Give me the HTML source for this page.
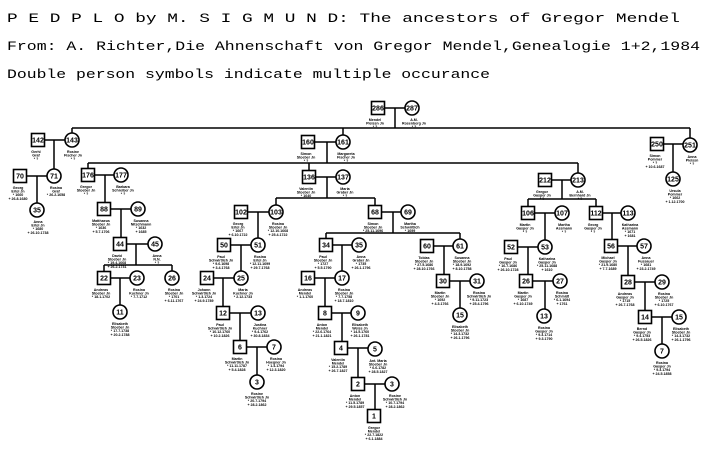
<!DOCTYPE html>
<html><head><meta charset="utf-8"><style>
html,body{margin:0;padding:0;background:#fff;}
svg{display:block;}
.t{font-family:"Liberation Mono",monospace;font-size:13px;fill:#000;}
.n{font-family:"Liberation Sans",sans-serif;font-size:7px;font-weight:bold;fill:#000;text-anchor:middle;}
.l{font-family:"Liberation Sans",sans-serif;font-size:3.6px;font-weight:bold;fill:#000;text-anchor:middle;}
rect,circle{fill:#fff;stroke:#000;stroke-width:1.6;}
path{stroke:#000;stroke-width:1.5;fill:none;}
</style></head><body>
<svg width="705" height="454" viewBox="0 0 705 454" xmlns="http://www.w3.org/2000/svg">
<text class="t" x="7" y="22" textLength="673" lengthAdjust="spacingAndGlyphs">P E D P L O  by M. S I G M U N D: The ancestors of Gregor Mendel</text>
<text class="t" x="7" y="50" textLength="693" lengthAdjust="spacingAndGlyphs">From: A. Richter,Die Ahnenschaft von Gregor Mendel,Genealogie 1+2,1984</text>
<text class="t" x="7" y="78" textLength="483" lengthAdjust="spacingAndGlyphs">Double person symbols indicate multiple occurance</text>

<path d="
M385 108H405 M395 108V128 M72 128H690 M72 128V133 M343 128V135 M690 128V138
M45 140H65 M54 140V169
M27 176H47 M37 176V203
M315 142H336 M327 142V163 M88 163H578 M88 163V168 M309 163V170 M578 163V173
M95 175H114 M105 175V202
M111 209H131 M121 209V237
M127 244H148 M136 244V265 M104 265H172 M104 265V271 M172 265V271
M111 278H130 M120 278V305
M316 177H336 M327 177V198 M276 198H375 M276 198V205 M375 198V205
M248 212H269 M258 212V238
M231 245H251 M241 245V271
M214 278H234 M223 278V306
M230 313H251 M240 313V340
M247 347H267 M257 347V375
M382 212H401 M393 212V233 M326 233H460 M326 233V238 M460 233V239
M333 245H352 M342 245V271
M315 278H335 M325 278V306
M332 313H351 M342 313V341
M348 348H368 M358 348V377
M365 384H385 M375 384V409
M434 246H453 M444 246V274
M450 281H470 M460 281V308
M552 180H571 M562 180V199 M528 199H596 M528 199V206 M596 199V206
M535 213H555 M545 213V240
M518 247H538 M528 247V274
M533 281H553 M545 281V309
M603 213H621 M612 213V239
M618 246H637 M628 246V275
M635 282H655 M645 282V310
M652 317H672 M662 317V344
M664 144H683 M673 144V172
"/>

<g>
<rect x="371.5" y="101.5" width="13" height="13"/><text class="n" x="378" y="110.5">286</text>
<rect x="31.5" y="133.5" width="13" height="13"/><text class="n" x="38" y="142.5">142</text>
<rect x="301.5" y="135.5" width="13" height="13"/><text class="n" x="308" y="144.5">160</text>
<rect x="650.5" y="137.5" width="13" height="13"/><text class="n" x="657" y="146.5">250</text>
<rect x="13.5" y="169.5" width="13" height="13"/><text class="n" x="20" y="178.5">70</text>
<rect x="81.5" y="168.5" width="13" height="13"/><text class="n" x="88" y="177.5">176</text>
<rect x="97.5" y="202.5" width="13" height="13"/><text class="n" x="104" y="211.5">88</text>
<rect x="113.5" y="237.5" width="13" height="13"/><text class="n" x="120" y="246.5">44</text>
<rect x="97.5" y="271.5" width="13" height="13"/><text class="n" x="104" y="280.5">22</text>
<rect x="302.5" y="170.5" width="13" height="13"/><text class="n" x="309" y="179.5">136</text>
<rect x="234.5" y="205.5" width="13" height="13"/><text class="n" x="241" y="214.5">102</text>
<rect x="217.5" y="238.5" width="13" height="13"/><text class="n" x="224" y="247.5">50</text>
<rect x="200.5" y="271.5" width="13" height="13"/><text class="n" x="207" y="280.5">24</text>
<rect x="216.5" y="306.5" width="13" height="13"/><text class="n" x="223" y="315.5">12</text>
<rect x="233.5" y="340.5" width="13" height="13"/><text class="n" x="240" y="349.5">6</text>
<rect x="368.5" y="205.5" width="13" height="13"/><text class="n" x="375" y="214.5">68</text>
<rect x="319.5" y="238.5" width="13" height="13"/><text class="n" x="326" y="247.5">34</text>
<rect x="420.5" y="239.5" width="13" height="13"/><text class="n" x="427" y="248.5">60</text>
<rect x="301.5" y="271.5" width="13" height="13"/><text class="n" x="308" y="280.5">16</text>
<rect x="318.5" y="306.5" width="13" height="13"/><text class="n" x="325" y="315.5">8</text>
<rect x="334.5" y="341.5" width="13" height="13"/><text class="n" x="341" y="350.5">4</text>
<rect x="351.5" y="377.5" width="13" height="13"/><text class="n" x="358" y="386.5">2</text>
<rect x="367.5" y="409.5" width="13" height="13"/><text class="n" x="374" y="418.5">1</text>
<rect x="436.5" y="274.5" width="13" height="13"/><text class="n" x="443" y="283.5">30</text>
<rect x="538.5" y="173.5" width="13" height="13"/><text class="n" x="545" y="182.5">212</text>
<rect x="521.5" y="206.5" width="13" height="13"/><text class="n" x="528" y="215.5">106</text>
<rect x="589.5" y="206.5" width="13" height="13"/><text class="n" x="596" y="215.5">112</text>
<rect x="504.5" y="240.5" width="13" height="13"/><text class="n" x="511" y="249.5">52</text>
<rect x="604.5" y="239.5" width="13" height="13"/><text class="n" x="611" y="248.5">56</text>
<rect x="519.5" y="274.5" width="13" height="13"/><text class="n" x="526" y="283.5">26</text>
<rect x="621.5" y="275.5" width="13" height="13"/><text class="n" x="628" y="284.5">28</text>
<rect x="638.5" y="310.5" width="13" height="13"/><text class="n" x="645" y="319.5">14</text>
</g>
<g>
<circle cx="412" cy="108" r="7"/><text class="n" x="412" y="110.5">287</text>
<circle cx="72" cy="140" r="7"/><text class="n" x="72" y="142.5">143</text>
<circle cx="343" cy="142" r="7"/><text class="n" x="343" y="144.5">161</text>
<circle cx="690" cy="145" r="7"/><text class="n" x="690" y="147.5">251</text>
<circle cx="673" cy="179" r="7"/><text class="n" x="673" y="181.5">125</text>
<circle cx="54" cy="176" r="7"/><text class="n" x="54" y="178.5">71</text>
<circle cx="37" cy="210" r="7"/><text class="n" x="37" y="212.5">35</text>
<circle cx="121" cy="175" r="7"/><text class="n" x="121" y="177.5">177</text>
<circle cx="138" cy="209" r="7"/><text class="n" x="138" y="211.5">89</text>
<circle cx="155" cy="244" r="7"/><text class="n" x="155" y="246.5">45</text>
<circle cx="137" cy="278" r="7"/><text class="n" x="137" y="280.5">23</text>
<circle cx="172" cy="278" r="7"/><text class="n" x="172" y="280.5">26</text>
<circle cx="120" cy="312" r="7"/><text class="n" x="120" y="314.5">11</text>
<circle cx="343" cy="177" r="7"/><text class="n" x="343" y="179.5">137</text>
<circle cx="276" cy="212" r="7"/><text class="n" x="276" y="214.5">103</text>
<circle cx="258" cy="245" r="7"/><text class="n" x="258" y="247.5">51</text>
<circle cx="241" cy="278" r="7"/><text class="n" x="241" y="280.5">25</text>
<circle cx="258" cy="313" r="7"/><text class="n" x="258" y="315.5">13</text>
<circle cx="274" cy="347" r="7"/><text class="n" x="274" y="349.5">7</text>
<circle cx="257" cy="382" r="7"/><text class="n" x="257" y="384.5">3</text>
<circle cx="408" cy="212" r="7"/><text class="n" x="408" y="214.5">69</text>
<circle cx="359" cy="245" r="7"/><text class="n" x="359" y="247.5">35</text>
<circle cx="460" cy="246" r="7"/><text class="n" x="460" y="248.5">61</text>
<circle cx="342" cy="278" r="7"/><text class="n" x="342" y="280.5">17</text>
<circle cx="358" cy="313" r="7"/><text class="n" x="358" y="315.5">9</text>
<circle cx="375" cy="349" r="7"/><text class="n" x="375" y="351.5">5</text>
<circle cx="392" cy="384" r="7"/><text class="n" x="392" y="386.5">3</text>
<circle cx="477" cy="281" r="7"/><text class="n" x="477" y="283.5">31</text>
<circle cx="460" cy="315" r="7"/><text class="n" x="460" y="317.5">15</text>
<circle cx="578" cy="180" r="7"/><text class="n" x="578" y="182.5">213</text>
<circle cx="562" cy="213" r="7"/><text class="n" x="562" y="215.5">107</text>
<circle cx="628" cy="213" r="7"/><text class="n" x="628" y="215.5">113</text>
<circle cx="545" cy="247" r="7"/><text class="n" x="545" y="249.5">53</text>
<circle cx="644" cy="246" r="7"/><text class="n" x="644" y="248.5">57</text>
<circle cx="560" cy="281" r="7"/><text class="n" x="560" y="283.5">27</text>
<circle cx="544" cy="316" r="7"/><text class="n" x="544" y="318.5">13</text>
<circle cx="662" cy="282" r="7"/><text class="n" x="662" y="284.5">29</text>
<circle cx="679" cy="317" r="7"/><text class="n" x="679" y="319.5">15</text>
<circle cx="662" cy="351" r="7"/><text class="n" x="662" y="353.5">7</text>
</g>
<g class="l">
<text class="l" x="375" y="121">Mendel<tspan x="375" dy="3.6">Pleissn Jn</tspan><tspan x="375" dy="3.6">* ?</tspan></text>
<text class="l" x="414" y="121">A.M.<tspan x="414" dy="3.6">Rosenberg Jn</tspan><tspan x="414" dy="3.6">* ?</tspan></text>
<text class="l" x="36" y="153">Gerhl<tspan x="36" dy="3.6">Graf</tspan><tspan x="36" dy="3.6">* ?</tspan></text>
<text class="l" x="73" y="153">Rosine<tspan x="73" dy="3.6">Fischer Jn</tspan><tspan x="73" dy="3.6">* ?</tspan></text>
<text class="l" x="306" y="155">Simon<tspan x="306" dy="3.6">Stoeber Jn</tspan><tspan x="306" dy="3.6">* ?</tspan></text>
<text class="l" x="346" y="155">Margareta<tspan x="346" dy="3.6">Fischer Jn</tspan><tspan x="346" dy="3.6">* ?</tspan></text>
<text class="l" x="655" y="157">Simon<tspan x="655" dy="3.6">Pommer</tspan><tspan x="655" dy="3.6">* ?</tspan><tspan x="655" dy="3.6">+ 10.6.1687</tspan></text>
<text class="l" x="692" y="158">Anna<tspan x="692" dy="3.6">Pleissn</tspan><tspan x="692" dy="3.6">* ?</tspan></text>
<text class="l" x="675" y="192">Ursula<tspan x="675" dy="3.6">Pommer</tspan><tspan x="675" dy="3.6">* 1662</tspan><tspan x="675" dy="3.6">+ 1.12.1700</tspan></text>
<text class="l" x="18" y="189">Georg<tspan x="18" dy="3.6">Ertel Jn</tspan><tspan x="18" dy="3.6">* 1660</tspan><tspan x="18" dy="3.6">+ 26.8.1680</tspan></text>
<text class="l" x="56" y="189">Rosina<tspan x="56" dy="3.6">Graf</tspan><tspan x="56" dy="3.6">* 26.2.1658</tspan></text>
<text class="l" x="38" y="223">Anna<tspan x="38" dy="3.6">Ertel Jn</tspan><tspan x="38" dy="3.6">* 1680</tspan><tspan x="38" dy="3.6">+ 26.10.1738</tspan></text>
<text class="l" x="86" y="188">Gregor<tspan x="86" dy="3.6">Stoeber Jn</tspan><tspan x="86" dy="3.6">* ?</tspan></text>
<text class="l" x="123" y="188">Barbara<tspan x="123" dy="3.6">Schreiber Jn</tspan><tspan x="123" dy="3.6">* ?</tspan></text>
<text class="l" x="101" y="222">Matthaeus<tspan x="101" dy="3.6">Stoeber Jn</tspan><tspan x="101" dy="3.6">* 1636</tspan><tspan x="101" dy="3.6">+ 5.7.1706</tspan></text>
<text class="l" x="141" y="222">Susanna<tspan x="141" dy="3.6">Nitschmann</tspan><tspan x="141" dy="3.6">* 1632</tspan><tspan x="141" dy="3.6">+ 1685</tspan></text>
<text class="l" x="117" y="257">David<tspan x="117" dy="3.6">Stoeber Jn</tspan><tspan x="117" dy="3.6">* 19.4.1668</tspan><tspan x="117" dy="3.6">+ 26.2.1731</tspan></text>
<text class="l" x="157" y="257">Anna<tspan x="157" dy="3.6">N.N.</tspan><tspan x="157" dy="3.6">* ?</tspan></text>
<text class="l" x="101" y="291">Andreas<tspan x="101" dy="3.6">Stoeber Jn</tspan><tspan x="101" dy="3.6">* 18.1.1702</tspan></text>
<text class="l" x="139" y="291">Rosina<tspan x="139" dy="3.6">Kuchner Jn</tspan><tspan x="139" dy="3.6">* 7.7.1712</tspan></text>
<text class="l" x="174" y="291">Rosina<tspan x="174" dy="3.6">Stoeber Jn</tspan><tspan x="174" dy="3.6">* 1701</tspan><tspan x="174" dy="3.6">+ 6.11.1767</tspan></text>
<text class="l" x="120" y="325">Elisabeth<tspan x="120" dy="3.6">Stoeber Jn</tspan><tspan x="120" dy="3.6">* 17.7.1738</tspan><tspan x="120" dy="3.6">+ 20.2.1788</tspan></text>
<text class="l" x="306" y="190">Valentin<tspan x="306" dy="3.6">Stoeber Jn</tspan><tspan x="306" dy="3.6">* 1640</tspan></text>
<text class="l" x="345" y="190">Maria<tspan x="345" dy="3.6">Graber Jn</tspan><tspan x="345" dy="3.6">* ?</tspan></text>
<text class="l" x="238" y="225">Georg<tspan x="238" dy="3.6">Ertel Jn</tspan><tspan x="238" dy="3.6">* 1667</tspan><tspan x="238" dy="3.6">+ 6.10.1722</tspan></text>
<text class="l" x="278" y="225">Rosina<tspan x="278" dy="3.6">Stoeber Jn</tspan><tspan x="278" dy="3.6">* 12.10.1668</tspan><tspan x="278" dy="3.6">+ 25.4.1722</tspan></text>
<text class="l" x="221" y="258">Paul<tspan x="221" dy="3.6">Schwirtlich Jn</tspan><tspan x="221" dy="3.6">* 9.6.1698</tspan><tspan x="221" dy="3.6">+ 3.4.1768</tspan></text>
<text class="l" x="260" y="258">Rosina<tspan x="260" dy="3.6">Ertel Jn</tspan><tspan x="260" dy="3.6">* 12.11.1699</tspan><tspan x="260" dy="3.6">+ 29.7.1768</tspan></text>
<text class="l" x="204" y="291">Johann<tspan x="204" dy="3.6">Schwirtlich Jn</tspan><tspan x="204" dy="3.6">* 1.3.1724</tspan><tspan x="204" dy="3.6">+ 24.9.1789</tspan></text>
<text class="l" x="243" y="291">Maria<tspan x="243" dy="3.6">Kuchner Jn</tspan><tspan x="243" dy="3.6">* 2.12.1733</tspan></text>
<text class="l" x="220" y="326">Paul<tspan x="220" dy="3.6">Schwirtlich Jn</tspan><tspan x="220" dy="3.6">* 10.12.1760</tspan><tspan x="220" dy="3.6">+ 10.2.1826</tspan></text>
<text class="l" x="260" y="326">Justina<tspan x="260" dy="3.6">Kuchner</tspan><tspan x="260" dy="3.6">* 9.4.1762</tspan><tspan x="260" dy="3.6">+ 30.8.1834</tspan></text>
<text class="l" x="237" y="360">Martin<tspan x="237" dy="3.6">Schwirtlich Jn</tspan><tspan x="237" dy="3.6">* 11.11.1787</tspan><tspan x="237" dy="3.6">+ 5.4.1828</tspan></text>
<text class="l" x="276" y="360">Rosina<tspan x="276" dy="3.6">Hoegner Jn</tspan><tspan x="276" dy="3.6">* 1.4.1794</tspan><tspan x="276" dy="3.6">+ 12.3.1820</tspan></text>
<text class="l" x="257" y="395">Rosine<tspan x="257" dy="3.6">Schwirtlich Jn</tspan><tspan x="257" dy="3.6">* 20.7.1794</tspan><tspan x="257" dy="3.6">+ 28.2.1862</tspan></text>
<text class="l" x="373" y="225">Simon<tspan x="373" dy="3.6">Stoeber Jn</tspan><tspan x="373" dy="3.6">* 25.11.1696</tspan></text>
<text class="l" x="410" y="225">Martha<tspan x="410" dy="3.6">Schwirtlich</tspan><tspan x="410" dy="3.6">* 1699</tspan></text>
<text class="l" x="323" y="258">Paul<tspan x="323" dy="3.6">Stoeber Jn</tspan><tspan x="323" dy="3.6">* 1727</tspan><tspan x="323" dy="3.6">+ 5.5.1790</tspan></text>
<text class="l" x="361" y="258">Anna<tspan x="361" dy="3.6">Graber Jn</tspan><tspan x="361" dy="3.6">* 1735</tspan><tspan x="361" dy="3.6">+ 26.1.1796</tspan></text>
<text class="l" x="424" y="259">Tobias<tspan x="424" dy="3.6">Stoeber Jn</tspan><tspan x="424" dy="3.6">* 27.5.1686</tspan><tspan x="424" dy="3.6">+ 28.10.1766</tspan></text>
<text class="l" x="462" y="259">Susanna<tspan x="462" dy="3.6">Stoeber Jn</tspan><tspan x="462" dy="3.6">* 18.9.1692</tspan><tspan x="462" dy="3.6">+ 8.10.1758</tspan></text>
<text class="l" x="305" y="291">Andreas<tspan x="305" dy="3.6">Mendel</tspan><tspan x="305" dy="3.6">* 1.1.1760</tspan></text>
<text class="l" x="344" y="291">Rosina<tspan x="344" dy="3.6">Stoeber Jn</tspan><tspan x="344" dy="3.6">* 7.7.1758</tspan><tspan x="344" dy="3.6">+ 18.7.1810</tspan></text>
<text class="l" x="322" y="326">Anton<tspan x="322" dy="3.6">Mendel</tspan><tspan x="322" dy="3.6">* 22.6.1764</tspan><tspan x="322" dy="3.6">+ 21.1.1821</tspan></text>
<text class="l" x="360" y="326">Elisabeth<tspan x="360" dy="3.6">Weiss Jn</tspan><tspan x="360" dy="3.6">* 14.5.1760</tspan><tspan x="360" dy="3.6">+ 26.1.1781</tspan></text>
<text class="l" x="338" y="361">Valentin<tspan x="338" dy="3.6">Mendel</tspan><tspan x="338" dy="3.6">* 15.2.1789</tspan><tspan x="338" dy="3.6">+ 26.7.1827</tspan></text>
<text class="l" x="378" y="362">Ant. Maria<tspan x="378" dy="3.6">Stoeber Jn</tspan><tspan x="378" dy="3.6">* 6.6.1782</tspan><tspan x="378" dy="3.6">+ 28.5.1827</tspan></text>
<text class="l" x="355" y="397">Anton<tspan x="355" dy="3.6">Mendel</tspan><tspan x="355" dy="3.6">* 11.5.1789</tspan><tspan x="355" dy="3.6">+ 29.5.1857</tspan></text>
<text class="l" x="395" y="397">Rosine<tspan x="395" dy="3.6">Schwirtlich Jn</tspan><tspan x="395" dy="3.6">* 10.7.1794</tspan><tspan x="395" dy="3.6">+ 28.2.1862</tspan></text>
<text class="l" x="374" y="429">Gregor<tspan x="374" dy="3.6">Mendel</tspan><tspan x="374" dy="3.6">* 22.7.1822</tspan><tspan x="374" dy="3.6">+ 6.1.1884</tspan></text>
<text class="l" x="440" y="294">Martin<tspan x="440" dy="3.6">Stoeber Jn</tspan><tspan x="440" dy="3.6">* 1692</tspan><tspan x="440" dy="3.6">+ 4.3.1766</tspan></text>
<text class="l" x="479" y="294">Rosina<tspan x="479" dy="3.6">Schwirtlich Jn</tspan><tspan x="479" dy="3.6">* 9.11.1723</tspan><tspan x="479" dy="3.6">+ 25.4.1796</tspan></text>
<text class="l" x="460" y="328">Elisabeth<tspan x="460" dy="3.6">Stoeber Jn</tspan><tspan x="460" dy="3.6">* 14.3.1732</tspan><tspan x="460" dy="3.6">+ 26.1.1796</tspan></text>
<text class="l" x="542" y="193">Gregor<tspan x="542" dy="3.6">Gasper Jn</tspan><tspan x="542" dy="3.6">* ?</tspan></text>
<text class="l" x="580" y="193">A.M.<tspan x="580" dy="3.6">Bernhard Jn</tspan><tspan x="580" dy="3.6">* ?</tspan></text>
<text class="l" x="525" y="226">Martin<tspan x="525" dy="3.6">Gasper Jn</tspan><tspan x="525" dy="3.6">* ?</tspan></text>
<text class="l" x="564" y="226">Martha<tspan x="564" dy="3.6">Assmann</tspan><tspan x="564" dy="3.6">* ?</tspan></text>
<text class="l" x="593" y="226">Georg<tspan x="593" dy="3.6">Gasper Jn</tspan><tspan x="593" dy="3.6">* ?</tspan></text>
<text class="l" x="630" y="226">Katharina<tspan x="630" dy="3.6">Assmann</tspan><tspan x="630" dy="3.6">* 1671</tspan><tspan x="630" dy="3.6">+ 1681</tspan></text>
<text class="l" x="508" y="260">Paul<tspan x="508" dy="3.6">Gasper Jn</tspan><tspan x="508" dy="3.6">* 16.7.1686</tspan><tspan x="508" dy="3.6">+ 26.10.1728</tspan></text>
<text class="l" x="547" y="260">Katharina<tspan x="547" dy="3.6">Gasper Jn</tspan><tspan x="547" dy="3.6">* 25.11.1688</tspan><tspan x="547" dy="3.6">+ 1610</tspan></text>
<text class="l" x="608" y="259">Michael<tspan x="608" dy="3.6">Gasper Jn</tspan><tspan x="608" dy="3.6">* 21.9.1680</tspan><tspan x="608" dy="3.6">+ 7.7.1689</tspan></text>
<text class="l" x="646" y="259">Anna<tspan x="646" dy="3.6">Fussauer</tspan><tspan x="646" dy="3.6">* 1681</tspan><tspan x="646" dy="3.6">+ 23.2.1749</tspan></text>
<text class="l" x="523" y="294">Martin<tspan x="523" dy="3.6">Gasper Jn</tspan><tspan x="523" dy="3.6">* 1687</tspan><tspan x="523" dy="3.6">+ 6.10.1749</tspan></text>
<text class="l" x="562" y="294">Rosina<tspan x="562" dy="3.6">Schmidt</tspan><tspan x="562" dy="3.6">* 6.1.1694</tspan><tspan x="562" dy="3.6">+ 1761</tspan></text>
<text class="l" x="544" y="329">Rosina<tspan x="544" dy="3.6">Gasper Jn</tspan><tspan x="544" dy="3.6">* 9.3.1714</tspan><tspan x="544" dy="3.6">+ 9.3.1790</tspan></text>
<text class="l" x="625" y="295">Andreas<tspan x="625" dy="3.6">Gasper Jn</tspan><tspan x="625" dy="3.6">* 1715</tspan><tspan x="625" dy="3.6">+ 26.7.1768</tspan></text>
<text class="l" x="664" y="295">Rosina<tspan x="664" dy="3.6">Stoeber Jn</tspan><tspan x="664" dy="3.6">* 1725</tspan><tspan x="664" dy="3.6">+ 6.10.1767</tspan></text>
<text class="l" x="642" y="330">Bernd<tspan x="642" dy="3.6">Gasper Jn</tspan><tspan x="642" dy="3.6">* 9.4.1753</tspan><tspan x="642" dy="3.6">+ 26.5.1826</tspan></text>
<text class="l" x="681" y="330">Elisabeth<tspan x="681" dy="3.6">Stoeber Jn</tspan><tspan x="681" dy="3.6">* 14.3.1732</tspan><tspan x="681" dy="3.6">+ 26.1.1796</tspan></text>
<text class="l" x="662" y="364">Rosina<tspan x="662" dy="3.6">Gasper Jn</tspan><tspan x="662" dy="3.6">* 9.3.1794</tspan><tspan x="662" dy="3.6">+ 24.5.1858</tspan></text>
</g>
</svg>
</body></html>
